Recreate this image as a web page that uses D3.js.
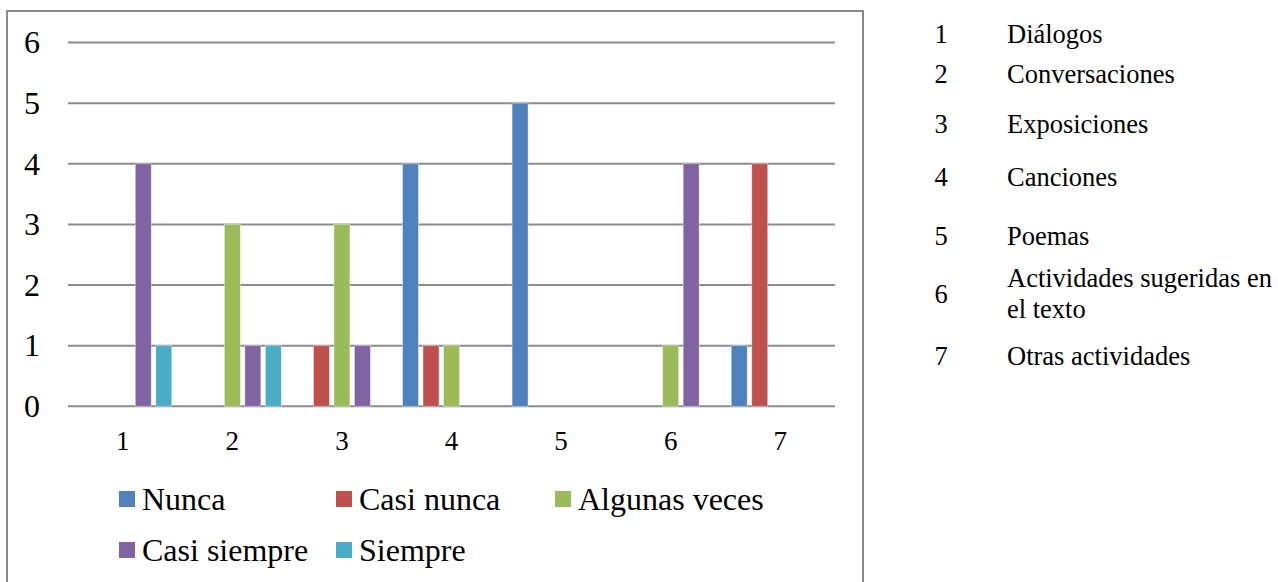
<!DOCTYPE html>
<html>
<head>
<meta charset="utf-8">
<script src="https://cdn.jsdelivr.net/npm/d3@7"></script>
<style>
html,body{margin:0;padding:0;background:#fff;}
svg{display:block;}
svg text{font-family:"Liberation Serif","Times New Roman","DejaVu Serif",serif;}
</style>
</head>
<body>
<svg id="chart" width="1278" height="582" font-family="Liberation Serif, DejaVu Serif, serif"></svg>
<script>
const categories = ["1","2","3","4","5","6","7"];
const seriesNames = ["Nunca","Casi nunca","Algunas veces","Casi siempre","Siempre"];
const nunca        = [0,0,0,4,5,0,1];
const casiNunca    = [0,0,1,1,0,0,4];
const algunasVeces = [0,3,3,1,0,1,0];
const casiSiempre  = [4,1,1,0,0,4,0];
const siempre      = [1,1,0,0,0,0,0];
const seriesValues = [nunca, casiNunca, algunasVeces, casiSiempre, siempre];
const colors = ["#4F81BD","#C0504D","#9BBB59","#8064A2","#4BACC6"];
const yTicks = [0,1,2,3,4,5,6];
const listNumbers = ["1","2","3","4","5","6","7"];
const listLabels = [["Diálogos"],["Conversaciones"],["Exposiciones"],["Canciones"],["Poemas"],["Actividades sugeridas en","el texto"],["Otras actividades"]];

(function(){
const FF = "Liberation Serif";
const svg = d3.select("#chart");

// outer border
svg.append("rect").attr("x",7).attr("y",11).attr("width",856).attr("height",600)
  .attr("fill","none").attr("stroke","#8a8a8a").attr("stroke-width",2);

const pLeft = 68, pRight = 835, pTop = 42.5, pBottom = 406.3;
const x0 = d3.scaleBand().domain(categories).range([pLeft,pRight]).padding(0);
const groupW = 102.5;
const x1 = d3.scaleBand().domain(seriesNames).range([0,groupW]).paddingInner(0.22).paddingOuter(0.11);
const y = d3.scaleLinear().domain([0,6]).range([pBottom,pTop]);

// gridlines
svg.append("g").selectAll("line").data(yTicks).join("line")
  .attr("x1",pLeft).attr("x2",pRight)
  .attr("y1",d=>y(d)).attr("y2",d=>y(d))
  .attr("stroke","#8c8c8c").attr("stroke-width",2);

// y labels
svg.append("g").selectAll("text").data(yTicks).join("text")
  .attr("x",32).attr("y",d=>y(d)+10.8)
  .attr("text-anchor","middle").attr("font-size",32).attr("font-family",FF).attr("fill","#000")
  .text(d=>d);

// bars
const data = [];
categories.forEach((c,i)=>seriesNames.forEach((s,j)=>data.push({c,s,j,v:seriesValues[j][i]})));
svg.append("g").selectAll("rect").data(data.filter(d=>d.v>0)).join("rect")
  .attr("x",d=>x0(d.c)+x0.bandwidth()/2-groupW/2+x1(d.s))
  .attr("width",x1.bandwidth())
  .attr("y",d=>y(d.v))
  .attr("height",d=>y(0)-y(d.v))
  .attr("fill",d=>colors[d.j])
  .attr("stroke","rgba(255,255,255,0.5)").attr("stroke-width",0.8);

// x labels
svg.append("g").selectAll("text").data(categories).join("text")
  .attr("x",d=>x0(d)+x0.bandwidth()/2).attr("y",450)
  .attr("text-anchor","middle").attr("font-size",27).attr("font-family",FF).attr("fill","#000")
  .text(d=>d);

// legend
const legPos = [[119,499],[336,499],[555,499],[119,550],[336,550]];
const leg = svg.append("g").selectAll("g").data(seriesNames).join("g")
  .attr("transform",(d,i)=>`translate(${legPos[i][0]},${legPos[i][1]})`);
leg.append("rect").attr("x",0).attr("y",-8).attr("width",16).attr("height",16)
  .attr("fill",(d,i)=>colors[i]);
leg.append("text").attr("x",23).attr("y",10.5).attr("font-size",32).attr("font-family",FF).attr("fill","#000").text(d=>d);

// right-side list
const listY = [43.3,83.3,132.7,186,245,303.3,365];
const rows = svg.append("g").selectAll("g").data(listNumbers).join("g");
rows.append("text").attr("x",941).attr("y",(d,i)=>listY[i])
  .attr("text-anchor","middle").attr("font-size",26.5).attr("font-family",FF).attr("fill","#000").text(d=>d);
rows.each(function(d,i){
  const lines = listLabels[i];
  const g = d3.select(this);
  if(lines.length===1){
    g.append("text").attr("x",1007).attr("y",listY[i]).attr("font-size",26.5).attr("font-family",FF).attr("fill","#000").text(lines[0]);
  } else {
    g.append("text").attr("x",1007).attr("y",286.7).attr("font-size",26.5).attr("font-family",FF).attr("fill","#000").text(lines[0]);
    g.append("text").attr("x",1007).attr("y",318).attr("font-size",26.5).attr("font-family",FF).attr("fill","#000").text(lines[1]);
  }
});
})();
</script>
</body>
</html>
